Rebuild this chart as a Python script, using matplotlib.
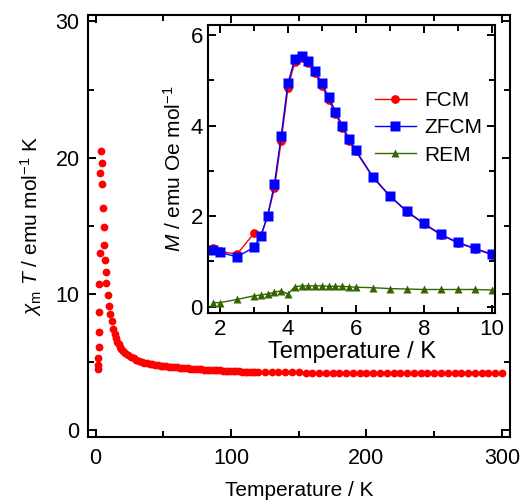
import matplotlib
matplotlib.use("Agg")
import matplotlib.pyplot as plt
from matplotlib.ticker import MultipleLocator

plt.rcParams['font.family'] = ['Liberation Sans', 'DejaVu Sans']
plt.rcParams['mathtext.fontset'] = 'custom'
plt.rcParams['mathtext.rm'] = 'Liberation Sans'
plt.rcParams['mathtext.it'] = 'Liberation Sans:italic'

# main panel: chi_m T vs T
temp = [1.8, 1.9, 2.0, 2.2, 2.4, 2.6, 2.8, 3.0, 3.5, 4.0, 4.5, 5.0, 5.5, 6.0, 6.5,
        7.0, 7.5, 8.0, 9, 10, 11, 12, 13, 14, 15, 16, 17, 18, 19, 20,
        22, 24, 26, 28, 30, 32, 34, 36, 38, 40, 42, 44, 46, 48, 50,
        52, 54, 56, 58, 60, 62, 64, 66, 68, 70, 72, 74, 76, 78, 80,
        82, 84, 86, 88, 90, 92, 94, 96, 98, 100, 102, 104, 106, 108, 110,
        112, 114, 116, 118, 120, 125, 130, 135, 140, 145, 150, 155, 160, 165,
        170, 175, 180, 185, 190, 195, 200, 205, 210, 215, 220, 225, 230, 235,
        240, 245, 250, 255, 260, 265, 270, 275, 280, 285, 290, 295, 300]
chiT = [4.5, 4.8, 5.3, 6.1, 7.2, 8.7, 10.7, 13.0, 18.9, 20.5, 19.6, 18.1, 16.3, 14.9, 13.6,
        12.5, 11.6, 10.8, 9.9, 9.1, 8.5, 8.0, 7.45, 7.05, 6.75, 6.5, 6.3, 6.12, 5.97, 5.85,
        5.65, 5.5, 5.38, 5.27, 5.18, 5.1, 5.03, 4.97, 4.92, 4.88, 4.84, 4.81, 4.78, 4.75, 4.72,
        4.70, 4.68, 4.66, 4.64, 4.62, 4.60, 4.58, 4.56, 4.55, 4.53, 4.52, 4.50, 4.49, 4.47, 4.46,
        4.45, 4.44, 4.43, 4.42, 4.40, 4.39, 4.38, 4.37, 4.36, 4.35, 4.34, 4.33, 4.32, 4.31, 4.30,
        4.30, 4.29, 4.28, 4.28, 4.27, 4.27, 4.26, 4.26, 4.25, 4.25, 4.25, 4.24, 4.24, 4.24,
        4.23, 4.23, 4.23, 4.23, 4.22, 4.22, 4.22, 4.22, 4.22, 4.21, 4.21, 4.21, 4.21, 4.21,
        4.21, 4.20, 4.20, 4.20, 4.20, 4.20, 4.20, 4.20, 4.20, 4.20, 4.20, 4.20, 4.20]

# inset: M vs T
t_in = [1.8, 2.0, 2.5, 3.0, 3.2, 3.4, 3.6, 3.8, 4.0, 4.2, 4.4, 4.6, 4.8, 5.0,
        5.2, 5.4, 5.6, 5.8, 6.0, 6.5, 7.0, 7.5, 8.0, 8.5, 9.0, 9.5, 10.0]
fcm = [1.30, 1.22, 1.16, 1.62, 1.56, 2.00, 2.61, 3.65, 4.82, 5.41, 5.50, 5.38, 5.15, 4.87,
       4.57, 4.26, 3.95, 3.66, 3.43, 2.86, 2.44, 2.10, 1.83, 1.59, 1.41, 1.28, 1.15]
zfcm = [1.25, 1.20, 1.10, 1.31, 1.56, 2.00, 2.70, 3.76, 4.93, 5.46, 5.54, 5.43, 5.21, 4.93,
        4.62, 4.31, 4.00, 3.70, 3.45, 2.87, 2.45, 2.11, 1.84, 1.60, 1.42, 1.29, 1.16]
rem = [0.09, 0.09, 0.16, 0.24, 0.26, 0.28, 0.32, 0.35, 0.28, 0.44, 0.46, 0.46, 0.46, 0.46,
       0.45, 0.45, 0.45, 0.44, 0.43, 0.42, 0.40, 0.39, 0.38, 0.38, 0.38, 0.38, 0.37]

red = '#ff0000'
blue = '#0000ff'
green = '#336600'

fig = plt.figure(figsize=(5.25, 5.03), dpi=100)
ax = fig.add_axes([0.1676, 0.1318, 0.8029, 0.8384])
ax.plot(temp, chiT, 'o', color=red, ms=5.6, mec='none')
ax.set_xlim(-5.6, 305.6)
ax.set_ylim(-0.47, 30.47)
ax.xaxis.set_major_locator(MultipleLocator(100))
ax.xaxis.set_minor_locator(MultipleLocator(50))
ax.yaxis.set_major_locator(MultipleLocator(10))
ax.yaxis.set_minor_locator(MultipleLocator(5))
ax.tick_params(which='both', direction='in', top=True, right=True, width=1.4, labelsize=15.5)
ax.tick_params(axis='x', pad=8)
ax.tick_params(axis='y', pad=6)
ax.tick_params(which='major', length=6)
ax.tick_params(which='minor', length=4)
for s in ax.spines.values():
    s.set_linewidth(1.5)
ax.set_xlabel('Temperature / K', fontsize=15, labelpad=9)
ax.set_ylabel(r'$\chi_\mathrm{m}$ $T$ / emu mol$^{-1}$ K', fontsize=15, labelpad=8)

ins = fig.add_axes([0.3968, 0.3771, 0.5461, 0.5732])
ins.plot(t_in, fcm, '-o', color=red, lw=1, ms=6.3, mec='none', label='FCM')
ins.plot(t_in, zfcm, '-s', color=blue, lw=1, ms=6.6, mec='none', label='ZFCM')
ins.plot(t_in, rem, '-^', color=green, lw=1, ms=5.8, mec='none', label='REM')
ins.set_xlim(1.655, 10.1)
ins.set_ylim(-0.146, 6.22)
ins.xaxis.set_major_locator(MultipleLocator(2))
ins.xaxis.set_minor_locator(MultipleLocator(1))
ins.yaxis.set_major_locator(MultipleLocator(2))
ins.yaxis.set_minor_locator(MultipleLocator(1))
ins.tick_params(which='both', direction='in', top=True, right=True, width=1.4, labelsize=16, pad=4)
ins.tick_params(which='major', length=6)
ins.tick_params(which='minor', length=4)
for s in ins.spines.values():
    s.set_linewidth(1.5)
ins.set_xlabel('Temperature / K', fontsize=17, labelpad=1)
ins.set_ylabel(r'$M$ / emu Oe mol$^{-1}$', fontsize=15, labelpad=4)
ins.legend(loc='upper right', bbox_to_anchor=(1.0, 0.815), frameon=False, fontsize=15,
           handlelength=2.0, handletextpad=0.4, labelspacing=0.4, borderaxespad=0.2)

fig.savefig('out.png', dpi=100)
